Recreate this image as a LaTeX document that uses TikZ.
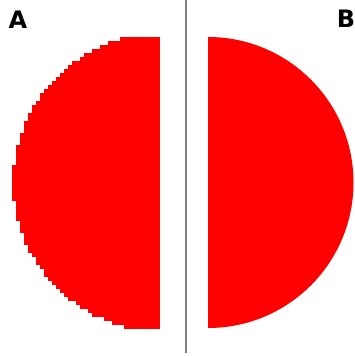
\documentclass[tikz,border=0pt]{standalone}
\usepackage{fontspec}
\usepackage{xcolor}
\usepackage{tikz}
\newfontfamily\lblfont{DejaVu Sans}
\definecolor{discred}{RGB}{255,0,0}
\definecolor{divider}{RGB}{128,128,128}

\begin{document}
\begin{tikzpicture}[
  x=1pt,y=-1pt,
  lbl/.style={font=\lblfont\bfseries\fontsize{24}{24}\selectfont,inner sep=0pt,text=black},
  half/.style={fill=discred,draw=none}
]
\useasboundingbox (0,0) rectangle (355,356);
% A: half disc drawn in coarse rows (no smoothing)
\foreach \i in {0,...,72}{
  \pgfmathsetmacro\yc{37+4*\i+2-182.5}
  \pgfmathsetmacro\w{4*floor(149*sqrt(max(0,1-(\yc/149)^2))/4)}
  \fill[half] (160-\w,37+4*\i) rectangle (160,41+4*\i);
}
% B: smooth half disc
\fill[half] (208,37) arc[start angle=-90,end angle=90,radius=145.5] -- cycle;
% divider
\draw[divider,line width=2pt] (186,0) -- (186,353);
\node[lbl] (labelA) at (18,20) {A};
\node[lbl] (labelB) at (346,19) {B};
\end{tikzpicture}
\end{document}
